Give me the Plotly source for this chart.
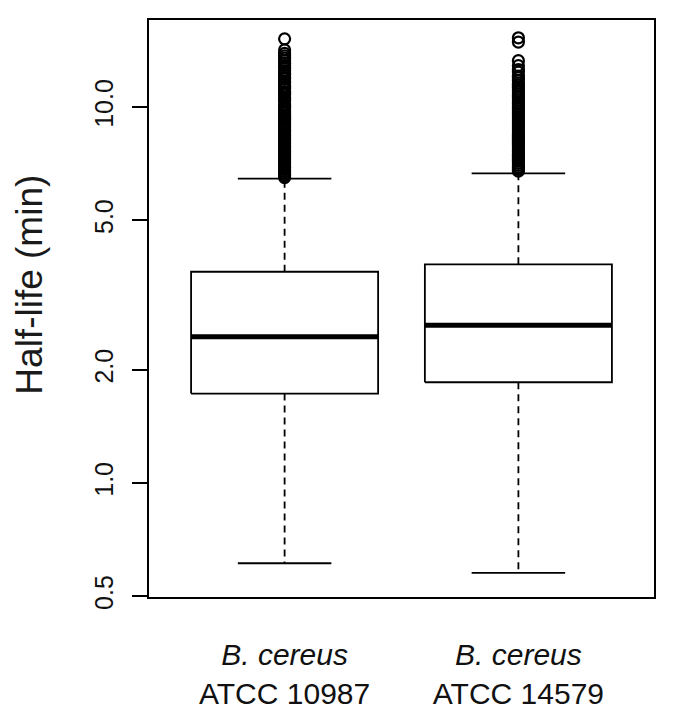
import plotly.graph_objects as go

# strains (x categories) and their labels
strains = ["ATCC 10987", "ATCC 14579"]
species = ["B. cereus", "B. cereus"]

# box statistics, half-life in minutes
lower_whisker = [0.612, 0.577]
q1 = [1.73, 1.855]
median = [2.45, 2.63]
q3 = [3.65, 3.82]
upper_whisker = [6.46, 6.67]

# outliers above the upper whisker
outliers_10987 = [
    6.50, 6.58, 6.66, 6.74, 6.82, 6.90, 6.98, 7.07, 7.16, 7.25, 7.34, 7.43,
    7.52, 7.61, 7.70, 7.80, 7.90, 8.00, 8.10, 8.20, 8.30, 8.40, 8.51, 8.62,
    8.73, 8.84, 8.95, 9.06, 9.17, 9.29, 9.41, 9.53, 9.65, 9.77, 9.89, 10.0,
    10.1, 10.2, 10.4, 10.5, 10.6, 10.8, 10.9, 11.0, 11.2, 11.3, 11.4, 11.6,
    11.7, 11.9, 12.0, 12.2, 12.3, 12.5, 12.7, 12.9, 13.1, 13.3, 13.5, 13.7,
    13.9, 14.2, 15.2,
]
outliers_14579 = [
    6.76, 6.84, 6.92, 7.00, 7.09, 7.18, 7.27, 7.36, 7.45, 7.54, 7.63, 7.72,
    7.82, 7.92, 8.02, 8.12, 8.22, 8.32, 8.43, 8.54, 8.65, 8.76, 8.87, 8.98,
    9.09, 9.20, 9.32, 9.44, 9.56, 9.68, 9.80, 9.92, 10.05, 10.2, 10.3, 10.45,
    10.6, 10.7, 10.85, 11.0, 11.15, 11.3, 11.45, 11.6, 11.8, 12.0, 12.1,
    12.4, 12.6, 12.9, 13.3, 14.9, 15.3,
]
outliers = [outliers_10987, outliers_14579]

y_ticks = [0.5, 1.0, 2.0, 5.0, 10.0]
y_tick_text = ["0.5", "1.0", "2.0", "5.0", "10.0"]
y_title = "Half-life (min)"

BOX_HALF = 0.4
STAPLE_HALF = 0.2
LINE = dict(color="black", width=1.8)
FONT = "Liberation Sans, Arial, sans-serif"

fig = go.Figure()

for i in range(len(strains)):
    c = i + 1
    # box
    fig.add_trace(go.Scatter(
        x=[c - BOX_HALF, c + BOX_HALF, c + BOX_HALF, c - BOX_HALF, c - BOX_HALF],
        y=[q1[i], q1[i], q3[i], q3[i], q1[i]],
        mode="lines", line=LINE, hoverinfo="skip",
    ))
    # median
    fig.add_trace(go.Scatter(
        x=[c - BOX_HALF, c + BOX_HALF], y=[median[i], median[i]],
        mode="lines", line=dict(color="black", width=5), hoverinfo="skip",
    ))
    # whiskers (dashed)
    for a, b in ((q3[i], upper_whisker[i]), (q1[i], lower_whisker[i])):
        fig.add_trace(go.Scatter(
            x=[c, c], y=[a, b], mode="lines",
            line=dict(color="black", width=1.8, dash="7px,5px"), hoverinfo="skip",
        ))
    # staples
    for w in (upper_whisker[i], lower_whisker[i]):
        fig.add_trace(go.Scatter(
            x=[c - STAPLE_HALF, c + STAPLE_HALF], y=[w, w],
            mode="lines", line=LINE, hoverinfo="skip",
        ))
    # outliers
    fig.add_trace(go.Scatter(
        x=[c] * len(outliers[i]), y=outliers[i], mode="markers",
        marker=dict(symbol="circle-open", size=11, color="black",
                    line=dict(color="black", width=2.2)),
    ))

# page body has an 8px margin, so the figure is shrunk by that much
fig.update_layout(
    width=677, height=710,
    showlegend=False,
    paper_bgcolor="white", plot_bgcolor="white",
    margin=dict(l=141, r=31, t=12, b=121),
    font=dict(family=FONT, color="black"),
    annotations=[dict(
        text=y_title, textangle=-90,
        xref="paper", yref="paper", x=-0.236, y=0.541,
        xanchor="center", yanchor="middle", showarrow=False,
        font=dict(size=37, color="#1a1a1a"),
    )],
)
fig.update_xaxes(
    range=[0.42, 2.58],
    tickvals=[1, 2],
    ticktext=[f"<i>{s}</i><br>{t}" for s, t in zip(species, strains)],
    tickfont=dict(size=30, color="#111"),
    ticks="", showgrid=False, zeroline=False,
    showline=True, linecolor="black", linewidth=2, mirror=True,
    ticklabelstandoff=30, automargin=False,
)
fig.update_yaxes(
    type="log",
    range=[-0.303, 1.232],
    tickvals=y_ticks, ticktext=y_tick_text,
    tickangle=-90,
    tickfont=dict(size=25, color="#111"),
    ticks="outside", ticklen=15, tickwidth=1.5, tickcolor="black",
    showgrid=False, zeroline=False,
    showline=True, linecolor="black", linewidth=2, mirror=True,
    ticklabelstandoff=9, automargin=False,
)

fig.write_html("out.html")
